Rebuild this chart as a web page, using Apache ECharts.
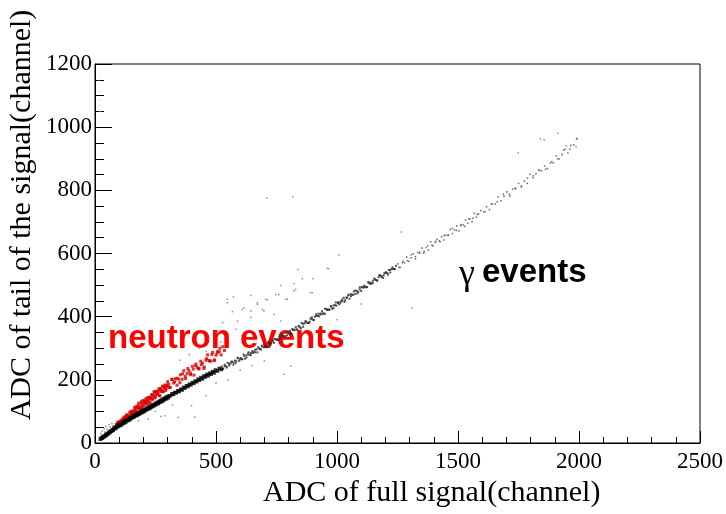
<!DOCTYPE html>
<html>
<head>
<meta charset="utf-8">
<script src="https://cdn.jsdelivr.net/npm/echarts@6/dist/echarts.min.js"></script>
<style>
  html, body { margin: 0; background: #fff; }
  #main { width: 726px; height: 514px; }
</style>
</head>
<body>
<div id="main"></div>
<script>
// axis ticks
const xTicks = [0, 500, 1000, 1500, 2000, 2500]
const yTicks = [0, 200, 400, 600, 800, 1000, 1200]

// gamma band, dense black part near the origin
const gammaCore = [[22,12],[26,16],[30,15],[32,20],[36,18],[38,22],[42,22],[45,27],[48,25],[52,30],[55,29],[58,35],[62,33],[65,38],[68,37],[72,42],[75,40],[78,47],[82,45],[85,50],[88,48],[92,53],[95,52],[98,58],[102,55],[105,60],[108,57],[112,63],[115,61],[118,67],[122,64],[125,70],[128,67],[132,73],[135,71],[138,76],[142,73],[145,79],[148,77],[152,82],[155,80],[158,86],[162,83],[165,88],[168,86],[172,91],[175,88],[178,94],[182,91],[185,97],[188,94],[192,100],[195,97],[198,103],[202,99],[205,105],[208,103],[212,109],[215,106],[218,112],[222,108],[225,114],[228,111],[232,117],[235,114],[238,120],[242,117],[245,123],[248,120],[252,126],[255,123],[258,129],[262,125],[265,132],[268,129],[272,135],[275,131],[278,138],[282,134],[285,141],[288,138],[292,144],[295,140],[298,147],[302,143],[306,149],[312,150],[318,156],[324,154],[330,160],[336,159],[342,165],[348,163],[354,170],[360,168],[366,176],[372,174],[378,181],[384,179],[390,186],[396,184],[402,191],[408,189],[414,196],[420,194],[426,202],[432,199],[438,207],[444,203],[450,212],[456,209],[462,217],[468,213],[474,221],[480,218],[486,226],[492,222],[498,231],[506,228],[514,236],[522,233]]

// gamma band, middle part
const gammaMid = [[524,242],[530,234],[536,243],[542,243],[548,254],[554,245],[560,251],[566,258],[572,248],[578,261],[584,259],[590,268],[596,260],[602,269],[608,266],[614,280],[620,267],[626,278],[632,283],[638,279],[644,278],[650,291],[656,289],[662,287],[668,297],[674,303],[680,297],[686,296],[692,305],[698,312],[704,305],[710,303],[716,317],[722,316],[728,316],[734,325],[740,317],[746,328],[752,328],[758,326],[764,336],[770,329],[776,338],[782,338],[788,349],[794,341],[800,347],[806,355],[812,345],[818,358],[824,357],[830,367],[836,359],[842,369],[848,366],[854,380],[860,368],[866,379],[872,385],[878,381],[884,380],[890,394],[896,392],[902,390],[908,400],[914,407],[920,402],[926,401],[932,410],[938,417],[944,411],[950,409],[956,424],[962,423],[968,423],[974,433],[980,425],[986,436],[992,436],[998,435],[1004,446],[1010,439],[1016,449],[1022,449],[1028,460],[1034,452],[1040,459],[1046,467],[1052,457],[1058,471],[1064,470],[1070,480],[1076,472],[1082,481],[1088,479],[1094,493],[1100,481],[1106,492],[1112,498],[1118,495],[1124,494],[1130,507],[1136,505],[1142,504],[1148,514],[1154,521],[1160,516],[1166,515],[1172,525],[1178,531],[1184,525],[1190,523],[1196,538],[1202,538],[1208,538],[1214,548],[1220,540],[1226,551],[1232,551],[1238,550],[1244,561],
  [527,236],[536,248],[545,239],[554,251],[563,257],[572,255],[581,253],[590,270],[599,265],[608,265],[617,276],[626,271],[635,287],[644,285],[653,285],[662,295],[671,287],[680,300],[689,308],[698,303],[707,306],[716,319],[725,310],[734,322],[743,329],[752,327],[761,326],[770,343],[779,338],[788,338],[797,349],[806,344],[815,361],[824,359],[833,360],[842,371],[851,363],[860,377],[869,385],[878,380],[887,384],[896,398],[905,389],[914,402],[923,409],[932,407],[941,408],[950,425],[959,421],[968,421],[977,432],[986,427],[995,445],[1004,443],[1013,444],[1022,455],[1031,447],[1040,461],[1049,470],[1058,465],[1067,469],[1076,483],[1085,474],[1094,487],[1103,494],[1112,493],[1121,493],[1130,510],[1139,507],[1148,507],[1157,518],[1166,514],[1175,531],[1184,529],[1193,531],[1202,541],[1211,533],[1220,548],[1229,556],[1238,551]]

// gamma band, sparse upper part
const gammaTail = [[1252,567],[1261,556],[1270,571],[1279,570],[1288,589],[1297,575],[1306,586],[1315,599],[1324,583],[1333,603],[1342,601],[1351,617],[1360,606],[1369,619],[1378,611],[1387,637],[1396,624],[1405,635],[1414,645],[1423,640],[1432,653],[1441,643],[1450,658],[1459,657],[1468,676],[1477,663],[1486,674],[1495,687],[1504,672],[1513,692],[1522,691],[1531,706],[1540,696],[1549,709],[1558,701],[1567,727],[1576,715],[1585,725],[1594,736],[1606,732],[1618,748],[1630,739],[1642,757],[1654,757],[1666,779],[1678,767],[1690,781],[1702,795],[1714,782],[1726,804],[1738,805],[1750,822],[1762,814],[1774,829],[1786,822],[1798,851],[1810,840],[1822,853],[1834,865],[1846,862],[1858,877],[1870,869],[1882,886],[1894,887],[1906,909],[1918,899],[1930,914],[1942,930],[1954,918],[1966,942],[1978,944],[1990,962],
  [1256,556],[1273,575],[1290,577],[1307,596],[1324,590],[1341,604],[1358,601],[1375,625],[1392,626],[1409,639],[1426,637],[1443,657],[1460,659],[1477,679],[1494,673],[1511,688],[1528,686],[1545,710],[1562,712],[1579,724],[1612,732],[1637,756],[1662,764],[1687,788],[1712,788],[1737,807],[1762,810],[1787,839],[1812,846],[1837,863],[1862,867],[1887,891],[1912,900],[1937,927],[1962,930]]

// stray points around the gamma band
const strays = [[710,776],[817,780],[1266,668],[1008,595],[960,553],[965,552],[839,549],[901,520],[822,505],[857,520],[767,499],[829,486],[644,467],[747,470],[788,455],[572,463],[547,444],[547,455],[671,444],[712,453],[616,428],[692,423],[644,418],[568,416],[898,476],[705,455],[759,470],[795,455],[822,481],[891,476],[609,423],[671,439],[698,418],[527,381],[589,386],[644,397],[740,407],[767,386],[582,360],[1311,428],[809,244],[781,218],
  [430,300],[470,330],[500,350],[520,320],[460,290],[390,280],[350,262],[25,30],[30,38],[38,45],[45,52],[50,44],[58,58],[62,50],[70,62],[75,55],[40,35],
  [344,81],[289,86],[220,76],[272,84],[399,118],[412,82],[250,100],[320,120],[180,70],[460,150],[500,190],[600,230],[650,245],[550,200],[700,260],[900,340],[1000,390],[1100,440],
  [1840,963],[1856,960],[1913,981],[1993,965],[1988,938],[1948,941],[1749,918]]

// faint points close to the y axis
const edgeDots = [[18,1149],[20,1112],[22,1086],[18,1070],[21,1049]]

// neutron band
const neutron = [[88,59],[92,55],[96,66],[100,63],[104,69],[108,62],[112,70],[116,77],[120,72],[124,84],[128,73],[132,83],[136,89],[140,84],[144,98],[148,81],[152,100],[156,96],[160,94],[164,111],[168,106],[172,97],[176,113],[180,126],[184,111],[188,110],[192,131],[196,111],[200,124],[204,132],[208,132],[212,123],[216,143],[220,134],[224,144],[228,128],[232,142],[236,153],[240,142],[244,162],[248,143],[252,155],[256,161],[260,154],[264,172],[268,149],[272,172],[276,166],[280,163],[284,180],[288,175],[292,166],[296,182],[300,194],
  [90,55],[94,65],[98,62],[102,67],[106,61],[110,73],[114,70],[118,80],[122,72],[126,80],[130,89],[134,79],[138,86],[142,78],[146,95],[150,91],[154,101],[158,91],[162,102],[166,114],[170,100],[174,117],[178,110],[182,117],[186,105],[190,125],[194,117],[198,135],[202,117],[206,129],[210,140],[214,127],[218,134],[222,124],[226,145],[230,139],[234,152],[238,137],[242,151],[246,162],[250,147],[254,164],[258,156],[262,164],[266,151],[270,171],[274,163],[278,180],[282,162],[286,174],[290,184],[294,172],[298,179],
  [304,186],[311,176],[318,202],[325,190],[332,204],[339,183],[346,202],[353,216],[360,202],[367,229],[374,204],[381,220],[388,229],[395,221],[402,243],[409,215],[416,245],[423,239],[430,235],[437,259],[444,253],[451,241],[458,262],[465,279],[472,260],[479,259],[486,287],[493,261],[500,278],[507,290],[514,289],[521,279],[528,305],[535,293],
  [307,176],[318,201],[329,194],[340,205],[351,191],[362,219],[373,211],[384,236],[395,216],[406,234],[417,250],[428,235],[439,248],[450,236],[461,267],[472,261],[483,280],[494,263],[505,285],[516,300]]

const chart = echarts.init(document.getElementById('main'))

const serif = 'Liberation Serif'

function dots(data, color, size) {
  return {
    type: 'scatter',
    data: data,
    symbol: 'rect',
    symbolSize: size,
    itemStyle: { color: color },
    silent: true
  }
}

const option = {
  animation: false,
  backgroundColor: '#fff',
  grid: {
    left: 95, right: 26, top: 64, bottom: 71,
    show: true, borderColor: '#000', borderWidth: 1
  },
  xAxis: {
    type: 'value',
    min: xTicks[0],
    max: xTicks[xTicks.length - 1],
    interval: xTicks[1] - xTicks[0],
    axisLine: { lineStyle: { color: '#000', width: 1 } },
    axisTick: { inside: true, length: 12, lineStyle: { color: '#000' } },
    minorTick: { show: true, splitNumber: 5, length: 6, lineStyle: { color: '#000' } },
    splitLine: { show: false },
    axisLabel: { margin: 7, color: '#000', fontFamily: serif, fontSize: 23, formatter: v => String(v) }
  },
  yAxis: {
    type: 'value',
    min: yTicks[0],
    max: yTicks[yTicks.length - 1],
    interval: yTicks[1] - yTicks[0],
    axisLine: { show: true, lineStyle: { color: '#000', width: 1 } },
    axisTick: { show: true, inside: true, length: 17, lineStyle: { color: '#000' } },
    minorTick: { show: true, splitNumber: 4, length: 9, lineStyle: { color: '#000' } },
    splitLine: { show: false },
    axisLabel: { margin: 3, color: '#000', fontFamily: serif, fontSize: 23, formatter: v => String(v) }
  },
  series: [
    dots(edgeDots, '#bbb', 1.3),
    dots(strays, '#777', 1.5),
    dots(gammaTail, '#555', 1.6),
    dots(gammaMid, '#2a2a2a', 2),
    dots(neutron, '#d80000', 3),
    dots(gammaCore, '#000', 3.6)
  ],
  graphic: [
    {
      type: 'text', left: 263, top: 478,
      style: { text: 'ADC of full signal(channel)', font: '30px "Liberation Serif"', fill: '#000' }
    },
    {
      type: 'text', x: 22, y: 215, rotation: Math.PI / 2,
      style: { text: 'ADC of tail of the signal(channel)', font: '30px "Liberation Serif"', fill: '#000', align: 'center', verticalAlign: 'middle' }
    },
    {
      type: 'text', x: 108, y: 339,
      style: { text: 'neutron events', font: 'bold 33px "Liberation Sans"', fill: '#ff0000', verticalAlign: 'middle' }
    },
    {
      type: 'text', x: 459, y: 275,
      style: { text: 'γ', font: '36px "Liberation Serif"', fill: '#000', verticalAlign: 'middle' }
    },
    {
      type: 'text', x: 482, y: 273,
      style: { text: 'events', font: 'bold 33px "Liberation Sans"', fill: '#000', verticalAlign: 'middle' }
    }
  ]
}

chart.setOption(option)
</script>
</body>
</html>
